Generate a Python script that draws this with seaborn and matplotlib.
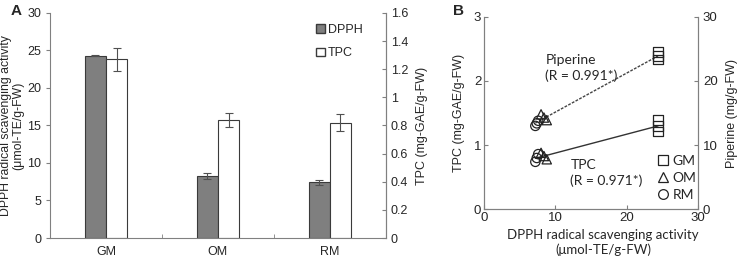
import numpy as np
import pandas as pd
import seaborn as sns
import matplotlib.pyplot as plt
from matplotlib.patches import Patch
from matplotlib.lines import Line2D

sns.set_style("white")
plt.rcParams['font.family'] = ['Liberation Sans', 'DejaVu Sans']

# panel A: means and error bars
cultivars = ['GM', 'OM', 'RM']
dpph_mean = [24.3, 8.3, 7.4]
dpph_err = [0.1, 0.4, 0.3]
tpc_mean = [1.27, 0.84, 0.82]
tpc_err = [0.08, 0.05, 0.06]

# panel B: replicate values
rep_cultivar = ['GM', 'GM', 'GM', 'OM', 'OM', 'OM', 'RM', 'RM', 'RM']
rep_dpph = [24.4, 24.4, 24.4, 8.0, 8.4, 8.8, 7.2, 7.4, 7.6]
rep_tpc = [1.39, 1.30, 1.21, 0.88, 0.83, 0.78, 0.74, 0.80, 0.86]
rep_piperine = [24.5, 23.9, 23.3, 14.8, 14.3, 13.9, 13.0, 13.4, 13.8]

grey = '#808080'

fig = plt.figure(figsize=(7.38, 2.62), dpi=100)

# ---------------- panel A ----------------
axA = fig.add_axes([0.0678, 0.0916, 0.455, 0.859])
axA2 = axA.twinx()
scale = 30 / 1.6  # TPC drawn on the left scale, labelled on the right

dfA = pd.DataFrame({
    'cultivar': cultivars * 2,
    'series': ['DPPH'] * 3 + ['TPC'] * 3,
    'value': dpph_mean + [v * scale for v in tpc_mean],
    'err': dpph_err + [e * scale for e in tpc_err],
})
sns.barplot(data=dfA, x='cultivar', y='value', hue='series', ax=axA,
            palette=['#7f7f7f', 'white'], width=0.38, errorbar=None,
            edgecolor='#3a3a3a', linewidth=0.8, legend=False)
for bar, e in zip(axA.patches, dfA['err']):
    cx = bar.get_x() + bar.get_width() / 2
    axA.errorbar(cx, bar.get_height(), yerr=e, fmt='none', ecolor='#505050',
                 elinewidth=0.8, capsize=3, capthick=0.8)

axA.set_xlim(-0.5, 2.5)
axA.set_ylim(0, 30)
axA2.set_ylim(0, 1.6)
axA.set_yticks(range(0, 31, 5))
axA2.set_yticks(np.arange(0, 1.61, 0.2))
axA2.set_yticklabels(['0', '0.2', '0.4', '0.6', '0.8', '1', '1.2', '1.4', '1.6'])
axA.set_xticks([0, 1, 2])
axA.set_xticks([0.5, 1.5], minor=True)
axA.tick_params(axis='x', which='major', length=0, labelsize=9, pad=6)
axA.tick_params(axis='x', which='minor', direction='in', length=3, color=grey, bottom=True)
axA.tick_params(axis='y', direction='out', length=3, color=grey, labelsize=9, left=True)
axA2.tick_params(axis='y', direction='in', length=3, color=grey, labelsize=9, right=True)
axA.set_xlabel('')
axA.set_ylabel('DPPH radical scavenging activity\n(μmol-TE/g-FW)', fontsize=8.8,
               linespacing=1.0, va='center')
axA.yaxis.set_label_coords(-0.114, 0.5)
axA2.set_ylabel('TPC (mg-GAE/g-FW)', fontsize=9, labelpad=6)
for ax in (axA, axA2):
    ax.spines['top'].set_visible(False)
    for s in ('left', 'right', 'bottom'):
        ax.spines[s].set_color(grey)
axA2.spines['left'].set_visible(False)
axA2.spines['bottom'].set_visible(False)
axA.grid(False)
axA2.grid(False)

legA = [Patch(facecolor='#7f7f7f', edgecolor='#3a3a3a', label='DPPH'),
        Patch(facecolor='white', edgecolor='#3a3a3a', label='TPC')]
axA.legend(handles=legA, loc='upper left', bbox_to_anchor=(0.76, 1.0), frameon=False,
           fontsize=9, handlelength=0.7, handleheight=0.7, handletextpad=0.2,
           labelspacing=0.9)

# ---------------- panel B ----------------
axB = fig.add_axes([0.6558, 0.201, 0.29, 0.735])
axB2 = axB.twinx()

dfB = pd.DataFrame({'cultivar': rep_cultivar, 'DPPH': rep_dpph,
                    'TPC': rep_tpc, 'Piperine': rep_piperine})
mk = {'GM': 's', 'OM': '^', 'RM': 'o'}

sns.regplot(data=dfB, x='DPPH', y='TPC', ax=axB, scatter=False, ci=None,
            truncate=True, color='#333333', line_kws={'lw': 1.0})
sns.regplot(data=dfB, x='DPPH', y='Piperine', ax=axB2, scatter=False, ci=None,
            truncate=True, color='#444444', line_kws={'lw': 1.0, 'ls': (0, (2, 1))})
sns.scatterplot(data=dfB, x='DPPH', y='TPC', style='cultivar', markers=mk,
                ax=axB, s=45, color='black', legend=False, zorder=3)
sns.scatterplot(data=dfB, x='DPPH', y='Piperine', style='cultivar', markers=mk,
                ax=axB2, s=45, color='black', legend=False, zorder=3)
for ax in (axB, axB2):
    for coll in ax.collections:
        coll.set_facecolor('none')
        coll.set_edgecolor('#222222')
        coll.set_linewidth(0.9)

axB.set_xlim(0, 30)
axB.set_ylim(0, 3)
axB2.set_ylim(0, 30)
axB.set_xticks([0, 10, 20, 30])
axB.set_yticks([0, 1, 2, 3])
axB2.set_yticks([0, 10, 20, 30])
axB.tick_params(axis='both', direction='in', length=3, color=grey, labelsize=9.5,
                left=True, bottom=True, pad=2)
axB2.tick_params(axis='y', direction='in', length=3, color=grey, labelsize=9.5, right=True)
axB.set_xlabel('DPPH radical scavenging activity\n(μmol-TE/g-FW)', fontsize=9.5,
               family=['Lato', 'DejaVu Sans'], linespacing=1.3, va='center')
axB.xaxis.set_label_coords(0.556, -0.172)
axB.set_ylabel('TPC (mg-GAE/g-FW)', fontsize=9, labelpad=6)
axB2.set_ylabel('Piperine (mg/g-FW)', fontsize=9, labelpad=6)
for ax in (axB, axB2):
    ax.spines['top'].set_visible(False)
    for s in ('left', 'right', 'bottom'):
        ax.spines[s].set_color(grey)
    ax.grid(False)

axB.text(8.6, 2.42, 'Piperine\n(R = 0.991*)', fontsize=10, va='top', ha='left',
         family=['Lato', 'DejaVu Sans'], linespacing=1.3)
axB.text(12.1, 0.78, 'TPC\n(R = 0.971*)', fontsize=10, va='top', ha='left',
         family=['Lato', 'DejaVu Sans'], linespacing=1.3)

legB = [Line2D([], [], ls='none', marker=mk[c], mfc='none', mec='#222222', ms=7,
               mew=0.9, label=c) for c in cultivars]
axB.legend(handles=legB, loc='lower left', bbox_to_anchor=(0.77, 0.0), frameon=False,
           prop={'family': ['Lato', 'DejaVu Sans'], 'size': 10},
           handlelength=0.8, handletextpad=0.3, labelspacing=0.35, borderaxespad=0.2)

fig.text(0.015, 0.985, 'A', fontsize=11, fontweight='bold', va='top')
fig.text(0.614, 0.985, 'B', fontsize=11, fontweight='bold', va='top')

fig.savefig('out.png', dpi=100)
